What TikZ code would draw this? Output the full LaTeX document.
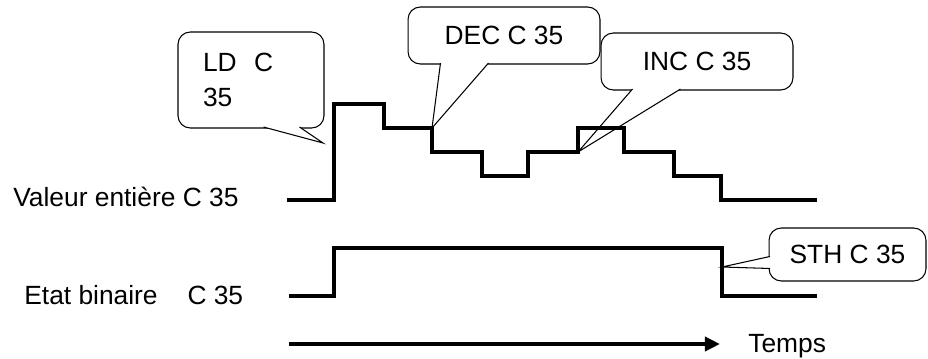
\documentclass[tikz,border=0pt]{standalone}
\usepackage{fontspec}
\setmainfont{Liberation Sans}
\usetikzlibrary{arrows.meta,calc}
\tikzset{bulle/.style={draw,fill=white,rounded corners=7pt,line width=0.6pt,align=center,inner sep=0pt},
  queue/.style={draw,fill=white,line width=0.6pt,line join=miter},
  sig/.style={line width=1.9pt,line join=miter},
  arr/.style={-{Triangle[length=8.5pt,width=8pt]},line width=1.9pt},
  lbl/.style={inner sep=0pt}}

\begin{document}
\begin{tikzpicture}[x=0.02cm,y=-0.02cm,font=\fontsize{15}{20}\selectfont]
\useasboundingbox (0,0) rectangle (928,358);
\node[lbl,anchor=base west] (valeur) at (13,206){Valeur entière C 35};
\node[lbl,anchor=base west] (etat) at (24,304){Etat binaire\hspace{17pt}C 35};
\node[lbl,anchor=base west] (temps) at (748,352){Temps};
\coordinate (ldtip) at (323,143); \coordinate (dectip) at (432,128);
\coordinate (inctip) at (578,152); \coordinate (sthtip) at (722,267);
\node[bulle,minimum width=2.92cm,minimum height=1.92cm,text width=1.92cm,align=left] (ldbox) at (251,80){LD~~C\\35};
\filldraw[queue] ($(ldbox.south west)+(86,-1.5)$) -- (ldtip) -- ($(ldbox.south west)+(122,-1.5)$);
\node[bulle,minimum width=3.84cm,minimum height=1.14cm] (decbox) at (504,35.5){DEC C 35};
\filldraw[queue] ($(decbox.south west)+(33,-1.5)$) -- (dectip) -- ($(decbox.south west)+(81,-1.5)$);
\node[bulle,minimum width=3.84cm,minimum height=1.14cm] (incbox) at (697,61.5){INC C 35};
\filldraw[queue] ($(incbox.south west)+(32,-1.5)$) -- (inctip) -- ($(incbox.south west)+(80,-1.5)$);
\node[bulle,minimum width=3.14cm,minimum height=1.06cm] (sthbox) at (847.5,254.5){STH C 35};
\filldraw[queue] ($(sthbox.north west)+(1.5,29)$) -- (sthtip) -- ($(sthbox.north west)+(1.5,41)$);
\draw[sig] (287,200) -- (334,200) -- (334,104) -- (384,104) -- (384,128) -- (432,128) -- (432,152) -- (482,152)
  -- (482,176) -- (528,176) -- (528,152) -- (578,152) -- (578,128) -- (624,128) -- (624,152) -- (674,152)
  -- (674,176) -- (721,176) -- (721,200) -- (817,200);
\draw[sig] (289,296) -- (334,296) -- (334,248) -- (722,248) -- (722,296) -- (817,296);
\coordinate (t0) at (289,344);
\draw[arr,shorten >=16pt] (t0) -- (t0 -| temps.west);
\end{tikzpicture}
\end{document}
